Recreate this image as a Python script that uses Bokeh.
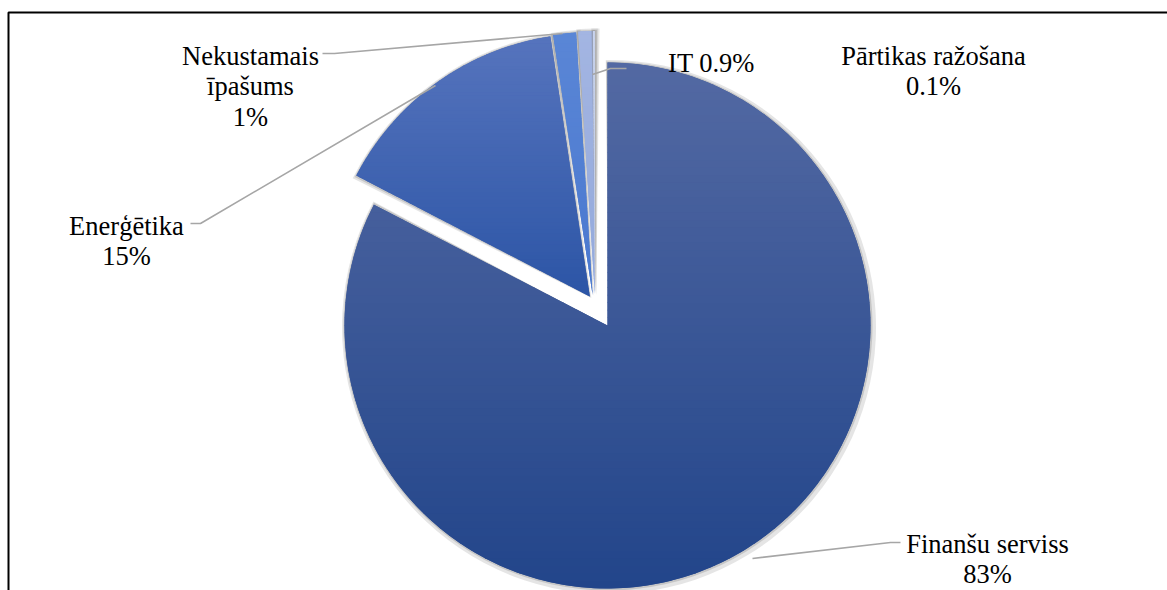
import numpy as np
from bokeh.plotting import figure
from bokeh.models import Range1d
from bokeh.embed import file_html
from bokeh.resources import INLINE
from bokeh.core.properties import value

# ---------------- data ----------------
categories = ["Finanšu serviss", "Enerģētika", "Nekustamais īpašums", "IT", "Pārtikas ražošana"]
shares = [82.6, 15.0, 1.4, 0.9, 0.1]          # percent
label_lines = [["Finanšu serviss", "83%"],
               ["Enerģētika", "15%"],
               ["Nekustamais", "īpašums", "1%"],
               ["IT 0.9%"],
               ["Pārtikas ražošana", "0.1%"]]

# ---------------- style / layout ----------------
W, H = 1167, 590
def Y(py):  # pixel y -> data y
    return H - py

CX, CY, R = 607, Y(325), 263
explode = [0, 34, 34, 34, 34]
explode_dir_deg = [0, 121.3, 116, 112, 112]
top_colors = ["#5369a3", "#5674bd", "#5a86d6", "#a3b5e2", "#c9d4ee"]
bot_colors = ["#22458a", "#2c55a6", "#4a78cf", "#93a9dc", "#c0cdeb"]
label_pos = [(987, 543), (126, 225), (250, 55), (711, 62), (933, 55)]
LINE_STEP = 30.5
leaders = [[(752, 558), (890, 542), (900, 542)],
           [(190, 223), (200, 223), (435, 85)],
           [(322, 53), (334, 53), (562, 33)],
           [(592, 74), (610, 68), (626, 68)]]
FONT = "Liberation Serif"

p = figure(width=W, height=H, x_range=Range1d(0, W), y_range=Range1d(0, H),
           output_backend="svg", toolbar_location=None,
           x_axis_location=None, y_axis_location=None, min_border=0)
p.grid.visible = False
p.outline_line_color = None
p.background_fill_color = "white"
p.border_fill_color = "white"


def hex2rgb(h):
    h = h.lstrip("#")
    return np.array([int(h[i:i + 2], 16) for i in (0, 2, 4)], dtype=float)


def rgb2hex(c):
    return "#%02x%02x%02x" % tuple(int(round(v)) for v in c)


def clip_half(pts, keep):
    out = []
    n = len(pts)
    for i in range(n):
        a, b = pts[i], pts[(i + 1) % n]
        ka, kb = keep(a), keep(b)
        if ka:
            out.append(a)
        if ka != kb:
            yb = keep.boundary
            t = (yb - a[1]) / (b[1] - a[1])
            out.append((a[0] + t * (b[0] - a[0]), yb))
    return out


class Keep:
    def __init__(self, boundary, above):
        self.boundary = boundary
        self.above = above

    def __call__(self, pt):
        return pt[1] >= self.boundary if self.above else pt[1] <= self.boundary


total = sum(shares)
cum = 0.0

for i, s in enumerate(shares):
    start = 90 - cum / total * 360
    end = start - s / total * 360
    cum += s
    ox = CX + explode[i] * np.cos(np.radians(explode_dir_deg[i]))
    oy = CY + explode[i] * np.sin(np.radians(explode_dir_deg[i]))
    # soft shadow
    p.wedge(x=[ox + 1.5], y=[oy - 1.5], radius=R + 4, start_angle=np.radians(start + 0.7),
            end_angle=np.radians(end - 0.7), direction="clock",
            fill_color="#7f7f7f", fill_alpha=0.2, line_color=None)
    p.wedge(x=[ox + 0.5], y=[oy - 0.5], radius=R + 1.5, start_angle=np.radians(start + 0.4),
            end_angle=np.radians(end - 0.4), direction="clock",
            fill_color="#8c8c8c", fill_alpha=0.35, line_color=None)
    # base wedge
    mid = (hex2rgb(top_colors[i]) + hex2rgb(bot_colors[i])) / 2
    p.wedge(x=[ox], y=[oy], radius=R, start_angle=np.radians(start), end_angle=np.radians(end),
            direction="clock", fill_color=rgb2hex(mid), line_color=None)
    # vertical gradient overlay (bands clipped to the wedge)
    ang = np.radians(np.linspace(start, end, 240))
    poly = [(ox, oy)] + [(ox + R * np.cos(a), oy + R * np.sin(a)) for a in ang]
    ys = [q[1] for q in poly]
    ymin, ymax = min(ys), max(ys)
    nb = 70
    edges = np.linspace(ymin, ymax, nb + 1)
    c_top, c_bot = hex2rgb(top_colors[i]), hex2rgb(bot_colors[i])
    bx, by, bc = [], [], []
    for k in range(nb):
        lo, hi = edges[k], edges[k + 1] + 0.6
        part = clip_half(poly, Keep(lo, True))
        if len(part) < 3:
            continue
        part = clip_half(part, Keep(hi, False))
        if len(part) < 3:
            continue
        t = 1 - ((lo + edges[k + 1]) / 2 - ymin) / (ymax - ymin)  # 0 top, 1 bottom
        bx.append([q[0] for q in part])
        by.append([q[1] for q in part])
        bc.append(rgb2hex(c_top + (c_bot - c_top) * t))
    if bx:
        p.patches(xs=bx, ys=by, fill_color=bc, line_color=None)

# leader lines
for pts in leaders:
    p.line([q[0] for q in pts], [Y(q[1]) for q in pts], line_color="#a6a6a6", line_width=1.6)

# labels
for lines, (lx, ly) in zip(label_lines, label_pos):
    p.text(x=[lx] * len(lines), y=[Y(ly + j * LINE_STEP) for j in range(len(lines))], text=lines,
           text_font=value(FONT), text_font_size="26.5px", text_color="#000000",
           text_align="center", text_baseline="alphabetic")

# frame border (left and top)
p.line([8, 8, W], [0, Y(12), Y(12)], line_color="black", line_width=2)

open("out.html", "w").write(file_html(p, INLINE))
